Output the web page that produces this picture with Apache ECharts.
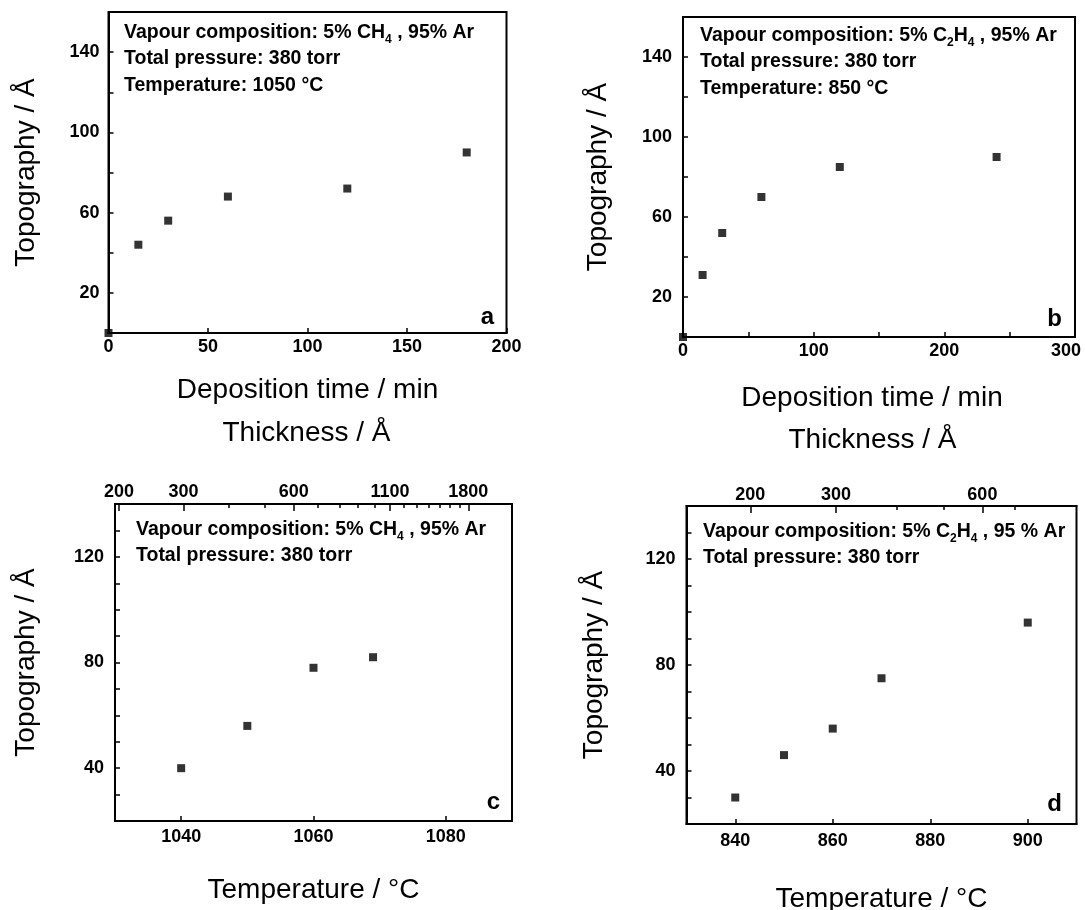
<!DOCTYPE html>
<html lang="en">
<head>
<meta charset="UTF-8">
<title>Topography</title>
<style>
    html, body { margin: 0; padding: 0; background: #fff; }
    #main { width: 1085px; height: 910px; }
</style>
</head>
<body>
<div id="main"></div>
<script src="https://cdn.jsdelivr.net/npm/echarts@6.0.0/dist/echarts.min.js"></script>
<script>
    // a: 5% CH4, 1050 °C - topography against deposition time
    var timeA = [0, 15, 30, 60, 120, 180];
    var topoA = [0, 44, 56, 68, 72, 90];
    // b: 5% C2H4, 850 °C
    var timeB = [0, 15, 30, 60, 120, 240];
    var topoB = [0, 31, 52, 70, 85, 90];
    // c: 5% CH4 - topography against temperature
    var tempC = [1040, 1050, 1060, 1069];
    var topoC = [40, 56, 78, 82];
    // d: 5% C2H4
    var tempD = [840, 850, 860, 870, 900];
    var topoD = [30, 46, 56, 75, 96];

    // tick labels
    var topoLabelsAB = [20, 60, 100, 140];
    var topoLabelsCD = [40, 80, 120];
    var timeLabelsB = [0, 100, 200, 300];
    var tempLabelsC = [1040, 1060, 1080];
    var tempLabelsD = [840, 860, 880, 900];

    // thickness on the top axes of c and d (log scale)
    var thickLabelsC = [200, 300, 600, 1100, 1800];
    var thickMinorC = [200, 300, 400, 500, 600, 700, 800, 900, 1000, 1100, 1200, 1300, 1400, 1500, 1600, 1700, 1800];
    var thickLabelsD = [200, 300, 600];
    var thickMinorD = [200, 300, 400, 500, 600, 700];
    // log10(thickness) at the left and right edges of c and d
    var thickRangeC = [2.290, 3.3745];
    var thickRangeD = [2.1697, 2.9717];

    var FONT = 'Liberation Sans';
    var chart = echarts.init(document.getElementById('main'));

    var line = {color: '#000', width: 2};
    var tickLine = {color: '#000', width: 1.5};
    var tickFont = {color: '#000', fontSize: 18, fontWeight: 'bold', fontFamily: FONT};
    var nameFont = {color: '#000', fontSize: 28, fontFamily: FONT};

    function pairs(xs, ys) {
        return xs.map(function (x, i) { return [x, ys[i]]; });
    }
    function log10(v) { return Math.log(v) / Math.LN10; }
    function plain(v) { return String(v); }

    function grid(left, top, width, height) {
        return {left: left, top: top, width: width, height: height, show: true,
            borderColor: '#000', borderWidth: 2, containLabel: false, outerBoundsMode: 'none'};
    }

    function yAxis(gi, min, max, step, labels, gap, margin) {
        return {
            type: 'value', gridIndex: gi, min: min, max: max, interval: step,
            name: 'Topography / Å', nameLocation: 'middle', nameRotate: 90, nameGap: gap,
            nameTextStyle: nameFont, nameMoveOverlap: false,
            axisLine: {show: true, onZero: false, lineStyle: line},
            axisTick: {inside: true, length: 5, lineStyle: tickLine},
            axisLabel: Object.assign({customValues: labels, margin: margin, formatter: plain}, tickFont),
            splitLine: {show: false}
        };
    }

    function xAxis(gi, opt) {
        var ax = {
            type: 'value', gridIndex: gi, position: 'bottom', min: opt.min, max: opt.max,
            nameLocation: 'middle', nameTextStyle: nameFont, nameMoveOverlap: false,
            axisLine: {show: true, onZero: false, lineStyle: line},
            axisTick: {inside: true, length: 5, lineStyle: tickLine},
            axisLabel: Object.assign({margin: opt.margin, formatter: opt.formatter || plain}, tickFont),
            splitLine: {show: false}
        };
        if (opt.rich) ax.axisLabel.rich = opt.rich;
        if (opt.interval) ax.interval = opt.interval;
        if (opt.name) { ax.name = opt.name; ax.nameGap = opt.gap; }
        if (opt.namePad) ax.nameTextStyle = Object.assign({padding: opt.namePad}, nameFont);
        if (opt.ticks) ax.axisTick.customValues = opt.ticks;
        if (opt.labels) ax.axisLabel.customValues = opt.labels;
        return ax;
    }

    // top thickness axis: one for the labelled ticks, one for the short ones
    function thickAxes(gi, range, labels, minor, gap, margin, namePad) {
        var major = labels.map(log10);
        return [{
            type: 'value', gridIndex: gi, position: 'top', min: range[0], max: range[1],
            name: 'Thickness / Å', nameLocation: 'middle', nameGap: gap,
            nameTextStyle: Object.assign({padding: namePad}, nameFont), nameMoveOverlap: false,
            axisLine: {show: true, onZero: false, lineStyle: line},
            axisTick: {inside: true, length: 7, customValues: major, lineStyle: tickLine},
            axisLabel: Object.assign({
                customValues: major, margin: margin,
                formatter: function (v) { return String(Math.round(Math.pow(10, v))); }
            }, tickFont),
            splitLine: {show: false}
        }, {
            type: 'value', gridIndex: gi, position: 'top', min: range[0], max: range[1],
            axisLine: {show: false, onZero: false},
            axisTick: {inside: true, length: 4, customValues: minor.map(log10), lineStyle: tickLine},
            axisLabel: {show: false},
            splitLine: {show: false}
        }];
    }

    function scatter(xi, yi, data) {
        return {type: 'scatter', xAxisIndex: xi, yAxisIndex: yi, data: data,
            symbol: 'rect', symbolSize: 8, clip: false, silent: true,
            itemStyle: {color: '#000'}};
    }

    var noteRich = {
        t: {fontSize: 19.5, fontWeight: 'bold', fontFamily: FONT, color: '#000', lineHeight: 26.5},
        s: {fontSize: 12, fontWeight: 'bold', fontFamily: FONT, color: '#000', lineHeight: 13, verticalAlign: 'bottom'}
    };
    function note(x, y, text) {
        return {type: 'text', x: x, y: y, silent: true,
            style: {text: text, rich: noteRich, align: 'left', verticalAlign: 'top'}};
    }
    function letter(x, y, text) {
        return {type: 'text', x: x, y: y, silent: true,
            style: {text: text, fill: '#000', fontSize: 24, fontWeight: 'bold', fontFamily: FONT,
                align: 'right', verticalAlign: 'bottom'}};
    }

    var topC = thickAxes(2, thickRangeC, thickLabelsC, thickMinorC, 57, 3, [0, 14, 0, 0]);
    var topD = thickAxes(3, thickRangeD, thickLabelsD, thickMinorD, 52, 2, [0, 18, 0, 0]);

    // the last label of b sits at the page edge, nudge it inwards
    var edgeRich = {e: Object.assign({padding: [0, 18, 0, 0]}, tickFont)};
    function edgeLabel(v) { return v === 300 ? '{e|300}' : String(v); }

    var option = {
        backgroundColor: '#fff',
        animation: false,
        grid: [
            grid(108.5, 12, 398, 321),
            grid(683, 17, 392, 320),
            grid(115, 504, 397, 317),
            grid(686.5, 506, 390, 318)
        ],
        xAxis: [
            xAxis(0, {min: 0, max: 200, interval: 50, margin: 5, name: 'Deposition time / min', gap: 43}),
            xAxis(1, {min: 0, max: 300, interval: 50, margin: 5, labels: timeLabelsB,
                formatter: edgeLabel, rich: edgeRich,
                name: 'Deposition time / min', gap: 47, namePad: [0, 14, 0, 0]}),
            xAxis(2, {min: 1030, max: 1090, margin: 7, ticks: tempLabelsC, labels: tempLabelsC,
                name: 'Temperature / °C', gap: 55}),
            topC[0], topC[1],
            xAxis(3, {min: 830, max: 910, margin: 8, ticks: tempLabelsD, labels: tempLabelsD,
                name: 'Temperature / °C', gap: 61}),
            topD[0], topD[1]
        ],
        yAxis: [
            yAxis(0, 0, 160, 20, topoLabelsAB, 68, 9),
            yAxis(1, 0, 160, 20, topoLabelsAB, 71, 11),
            yAxis(2, 20, 140, 10, topoLabelsCD, 75, 11),
            yAxis(3, 20, 140, 10, topoLabelsCD, 78, 11)
        ],
        series: [
            scatter(0, 0, pairs(timeA, topoA)),
            scatter(1, 1, pairs(timeB, topoB)),
            scatter(2, 2, pairs(tempC, topoC)),
            scatter(5, 3, pairs(tempD, topoD))
        ],
        graphic: [
            note(124, 19, '{t|Vapour composition: 5% CH}{s|4}{t| , 95% Ar}\n{t|Total pressure: 380 torr}\n{t|Temperature: 1050 °C}'),
            note(700, 22, '{t|Vapour composition: 5% C}{s|2}{t|H}{s|4}{t| , 95% Ar}\n{t|Total pressure: 380 torr}\n{t|Temperature: 850 °C}'),
            note(136, 516, '{t|Vapour composition: 5% CH}{s|4}{t| , 95% Ar}\n{t|Total pressure: 380 torr}'),
            note(703, 518, '{t|Vapour composition: 5% C}{s|2}{t|H}{s|4}{t| , 95 % Ar}\n{t|Total pressure: 380 torr}'),
            letter(494, 329, 'a'),
            letter(1062, 331, 'b'),
            letter(500, 814, 'c'),
            letter(1062, 816, 'd')
        ]
    };

    chart.setOption(option);
</script>
</body>
</html>
